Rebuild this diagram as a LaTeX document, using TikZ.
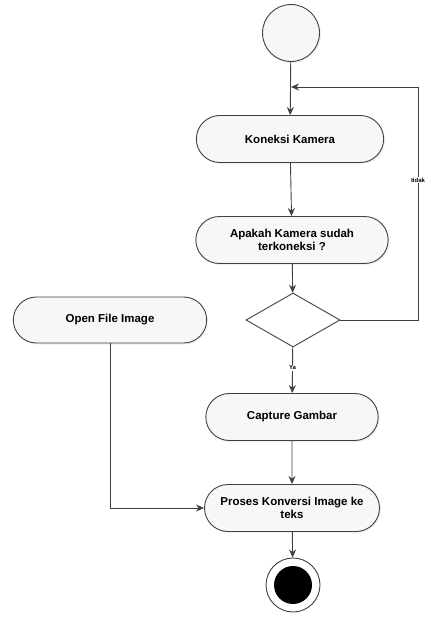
\documentclass[tikz,border=0pt]{standalone}
\usepackage{fontspec}
\setmainfont{Liberation Sans}
\usepackage{tikz}
\usetikzlibrary{shapes.geometric, arrows, arrows.meta}
\usetikzlibrary{shapes.misc}
\usetikzlibrary{shadows}
\tikzstyle{activity} = [rounded rectangle, minimum width=194pt, minimum height=47pt, text centered, align=center, draw=black!75, fill=gray!6, drop shadow={opacity=0.12, shadow xshift=1.5pt, shadow yshift=-1.5pt}, font=\bfseries\fontsize{11.5}{13}\selectfont]
\tikzstyle{decision} = [diamond, minimum width=94pt, minimum height=54pt, inner sep=0pt, draw=black!75, fill=white]
\tikzstyle{guard} = [fill=white, inner sep=1pt, font=\bfseries\fontsize{6}{7}\selectfont]
\tikzstyle{arrow} = [->,>={Stealth[length=8pt,width=7pt]}, draw=black!75]

\begin{document}
\begin{tikzpicture}[x=1pt, y=-1pt, line width=0.9pt]
\useasboundingbox (0,0) rectangle (425,619);
\node (start) [circle, minimum size=57pt, draw=black!75, fill=gray!6, drop shadow={opacity=0.12, shadow xshift=1.5pt, shadow yshift=-1.5pt}] at (291,33) {};
\node (koneksi) [activity] at (290,139) {Koneksi Kamera};
\node (cek) [activity, minimum width=199pt] at (292,240) {Apakah Kamera sudah\\terkoneksi ?};
\node (dec) [decision] at (293,320) {};
\node (capture) [activity, minimum width=179pt] at (292,417) {Capture Gambar};
\node (proses) [activity, minimum width=179pt, inner xsep=2pt] at (292,508) {Proses Konversi Image ke\\teks};
\node (open) [activity, minimum width=200pt, minimum height=46pt] at (110,320) {Open File Image};
\node (stop) [circle, minimum size=54pt, draw=black!75, fill=white] at (293,585) {};
\node (stopdot) [circle, minimum size=38pt, fill=black] at (stop) {};
\coordinate (join) at (291,87);
\coordinate (back) at (418,87);
\draw [arrow] (start) -- (koneksi);
\draw [arrow] (koneksi) -- (cek);
\draw [arrow] (cek) -- (dec);
\draw [arrow] (dec.east) -| node [guard, pos=0.8] {tidak} (back) -- (join);
\draw [arrow] (dec) -- node [guard, pos=0.45] {Ya} (capture);
\draw [arrow] (capture) -- (proses);
\draw [arrow] (open.south) |- (proses.west);
\draw [arrow] (proses) -- (stop);
\end{tikzpicture}
\end{document}
